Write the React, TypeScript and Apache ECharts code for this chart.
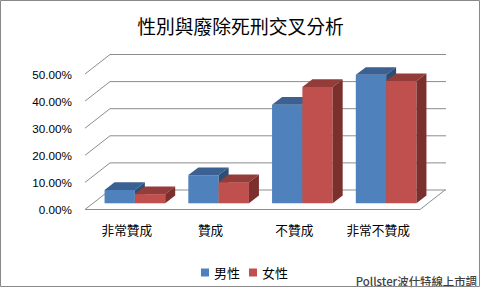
import React, { useEffect, useRef } from "react";
import * as echarts from "echarts";

const categories = ["非常贊成", "贊成", "不贊成", "非常不贊成"];
const maleValues = [4.9, 10.4, 36.4, 47.4];
const femaleValues = [3.4, 7.8, 42.9, 45.1];
const yTicks = [0, 10, 20, 30, 40, 50];
const seriesNames = ["男性", "女性"];
const titleText = "性別與廢除死刑交叉分析";
const sourceText = "Pollster波仕特線上市調";

const BLUE = { front: "#4F81BD", top: "#3B6092", side: "#2F4E76" };
const RED = { front: "#C0504D", top: "#933C3A", side: "#7C302E" };

// 3D geometry (pixels)
const WALL_DX = 25;
const WALL_DY = -19.5;
const BAR_OFF_DX = 8;
const BAR_OFF_DY = -6.2;
const BAR_DX = 10;
const BAR_DY = -7.7;
const BAR_W_RATIO = 0.362;
const GRID_COLOR = "#8C8C8C";

function gridRender(params: any, api: any) {
  const cs = params.coordSys;
  const v = api.value(1);
  const y = api.coord([0, v])[1];
  const x0 = cs.x;
  const x1 = cs.x + cs.width;
  const children: any[] = [
    {
      type: "polyline",
      shape: {
        points: [
          [x0, y],
          [x0 + WALL_DX, y + WALL_DY],
          [x1 + WALL_DX + 1, y + WALL_DY],
        ],
      },
      style: { stroke: GRID_COLOR, lineWidth: 1, fill: "none" },
    },
  ];
  if (v === 0) {
    children.push({
      type: "polyline",
      shape: {
        points: [
          [x0, y],
          [x1, y],
          [x1 + WALL_DX, y + WALL_DY],
        ],
      },
      style: { stroke: GRID_COLOR, lineWidth: 1, fill: "none" },
    });
  }
  return { type: "group", children };
}

function makeBarRender(idx: number, colors: { front: string; top: string; side: string }) {
  return (params: any, api: any) => {
    const cat = api.value(0);
    const v = api.value(1);
    const base = api.coord([cat, 0]);
    const topPt = api.coord([cat, v]);
    const band = api.size([1, 0])[0];
    const w = band * BAR_W_RATIO;
    const l = base[0] + BAR_OFF_DX - (idx === 0 ? w : 0);
    const r = l + w;
    const yb = base[1] + BAR_OFF_DY;
    const yt = topPt[1] + BAR_OFF_DY;
    return {
      type: "group",
      children: [
        {
          type: "rect",
          shape: { x: l, y: yt, width: w, height: yb - yt },
          style: { fill: colors.front },
        },
        {
          type: "polygon",
          shape: {
            points: [
              [l, yt],
              [r, yt],
              [r + BAR_DX, yt + BAR_DY],
              [l + BAR_DX, yt + BAR_DY],
            ],
          },
          style: { fill: colors.top },
        },
        {
          type: "polygon",
          shape: {
            points: [
              [r, yt],
              [r + BAR_DX, yt + BAR_DY],
              [r + BAR_DX, yb + BAR_DY],
              [r, yb],
            ],
          },
          style: { fill: colors.side },
        },
      ],
    };
  };
}

export default function App() {
  const ref = useRef<HTMLDivElement>(null);
  useEffect(() => {
    if (!ref.current) return;
    const chart = echarts.init(ref.current, undefined, { renderer: "svg" });
    chart.setOption({
      animation: false,
      backgroundColor: "#fff",
      title: {
        text: titleText,
        left: "center",
        top: 11,
        textStyle: {
          fontSize: 18.8,
          fontWeight: "normal",
          color: "#000",
          fontFamily: "Noto Sans CJK TC",
        },
      },
      legend: {
        data: seriesNames,
        left: 196,
        top: 261,
        icon: "rect",
        itemWidth: 8,
        itemHeight: 8,
        itemGap: 9,
        textStyle: { fontSize: 13, color: "#000", fontFamily: "Noto Sans CJK TC" },
      },
      grid: { left: 85, right: 61, top: 74, bottom: 79.5 },
      xAxis: {
        type: "category",
        data: categories,
        axisLine: { show: false },
        axisTick: { show: false },
        axisLabel: {
          margin: 14,
          fontSize: 12.7,
          color: "#000",
          fontFamily: "Noto Sans CJK TC",
        },
        splitLine: { show: false },
      },
      yAxis: {
        type: "value",
        min: 0,
        max: 50,
        interval: 10,
        axisLine: { show: false },
        axisTick: { show: false },
        splitLine: { show: false },
        axisLabel: {
          margin: 13,
          fontSize: 11.7,
          color: "#000",
          fontFamily: "Liberation Sans, Arial, sans-serif",
          formatter: (v: number) => v.toFixed(2) + "%",
        },
      },
      series: [
        {
          type: "custom",
          name: "grid3d",
          silent: true,
          renderItem: gridRender,
          data: yTicks.map((t) => [0, t]),
          encode: { x: 0, y: 1 },
          legendHoverLink: false,
        },
        {
          type: "custom",
          name: seriesNames[0],
          itemStyle: { color: BLUE.front },
          renderItem: makeBarRender(0, BLUE),
          data: maleValues.map((v, i) => [i, v]),
          encode: { x: 0, y: 1 },
        },
        {
          type: "custom",
          name: seriesNames[1],
          itemStyle: { color: RED.front },
          renderItem: makeBarRender(1, RED),
          data: femaleValues.map((v, i) => [i, v]),
          encode: { x: 0, y: 1 },
        },
      ],
      graphic: [
        {
          type: "text",
          x: 477,
          y: 281,
          style: {
            text: sourceText,
            align: "right",
            verticalAlign: "middle",
            fontSize: 11.4,
            fill: "#404040",
            fontWeight: 500,
            fontFamily: "Noto Sans CJK TC",
          },
        },
        {
          type: "rect",
          silent: true,
          shape: { x: 0.5, y: 0.5, width: 479, height: 286 },
          style: { fill: "none", stroke: "#888", lineWidth: 1 },
        },
      ],
    });
    return () => chart.dispose();
  }, []);
  return (
    <div
      ref={ref}
      style={{ position: "fixed", left: 0, top: 0, width: 481, height: 289 }}
    />
  );
}
